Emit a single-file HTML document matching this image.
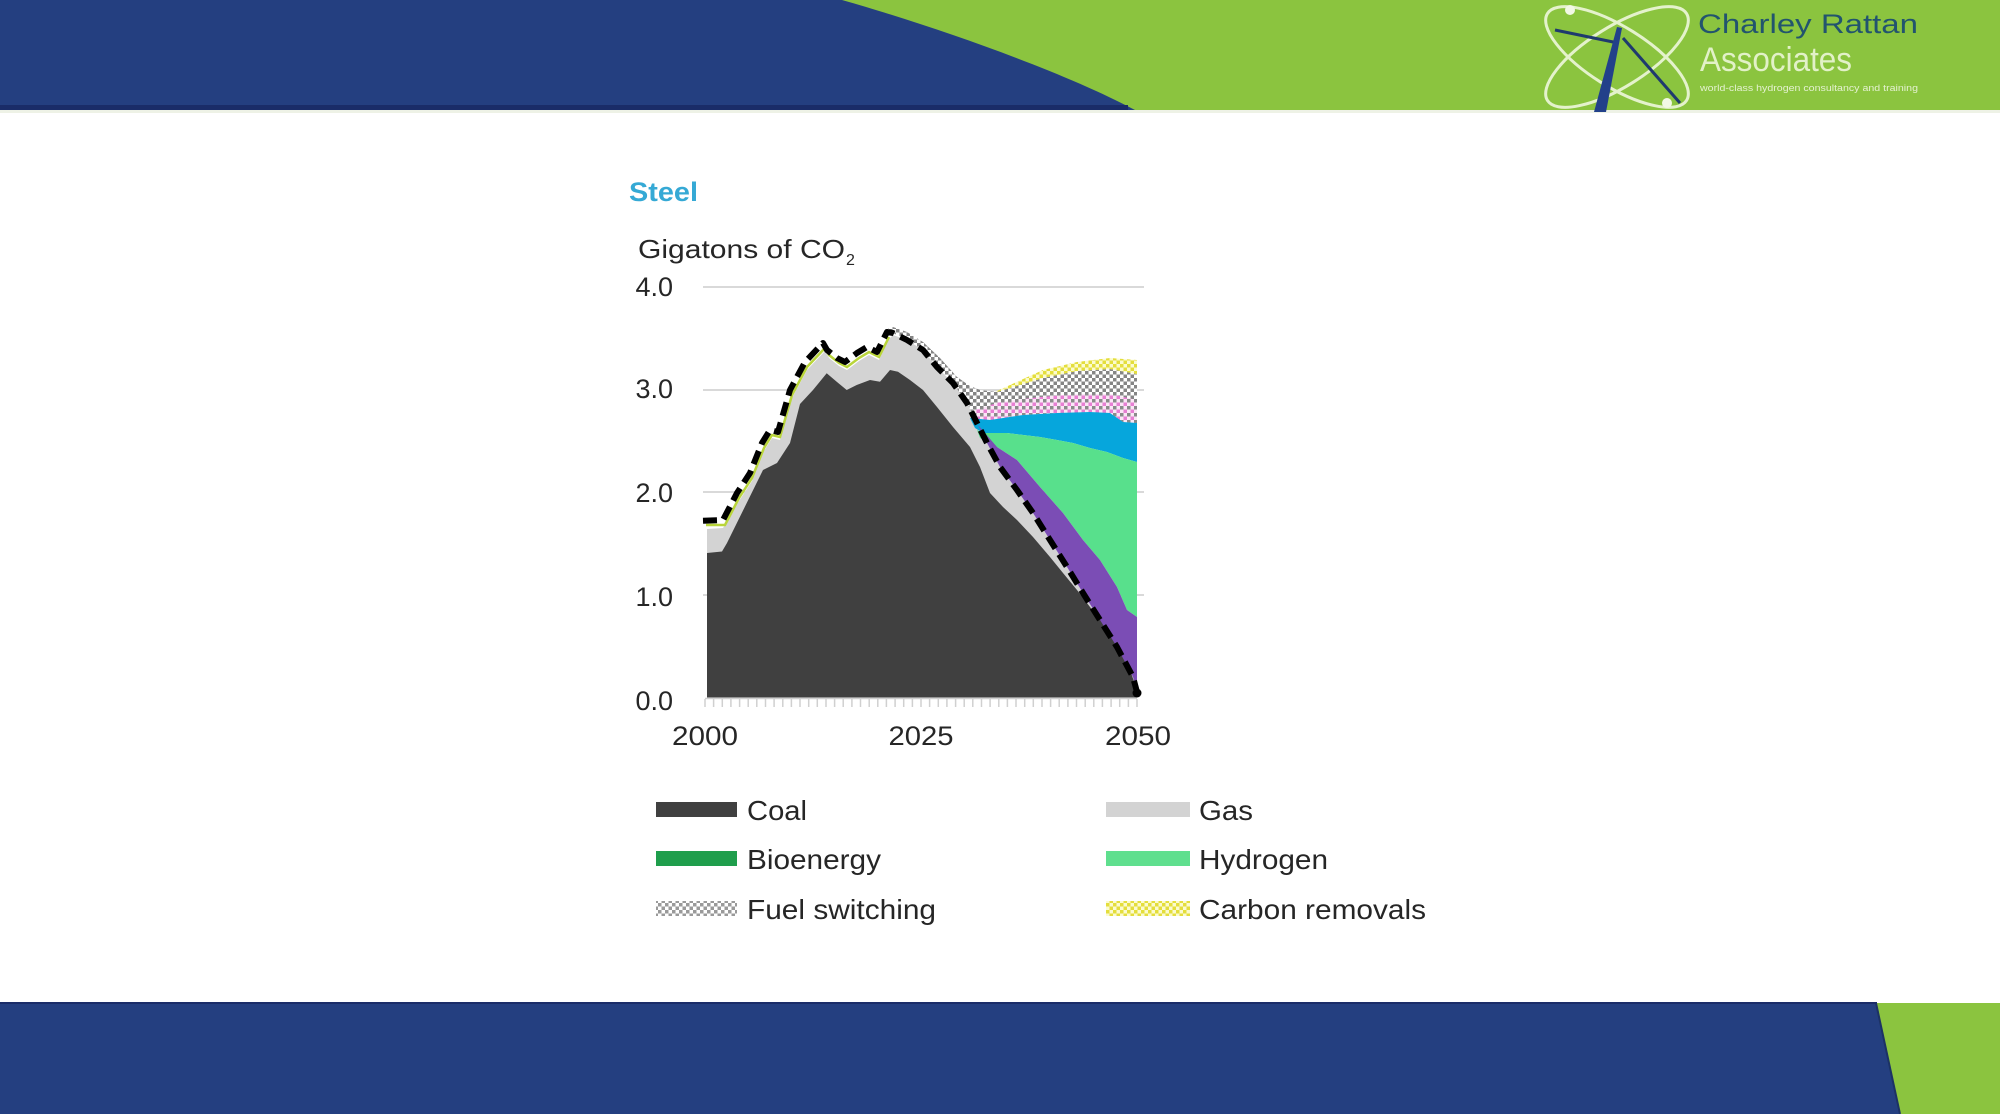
<!DOCTYPE html>
<html>
<head>
<meta charset="utf-8">
<style>
  html, body { margin: 0; padding: 0; background: #ffffff; }
  body { width: 2000px; height: 1114px; overflow: hidden; }
  svg { display: block; }
  text { font-family: "Liberation Sans", Arial, sans-serif; }
</style>
</head>
<body>
<svg width="2000" height="1114" viewBox="0 0 2000 1114" xmlns="http://www.w3.org/2000/svg">
  <defs>
    <pattern id="chkGrey" width="7" height="7" patternUnits="userSpaceOnUse">
      <rect width="7" height="7" fill="#ffffff"/>
      <rect x="0" y="0" width="3.5" height="3.5" fill="#858585"/>
      <rect x="3.5" y="3.5" width="3.5" height="3.5" fill="#858585"/>
    </pattern>
    <pattern id="chkPink" width="7" height="7" patternUnits="userSpaceOnUse">
      <rect width="7" height="7" fill="#fbe6f6"/>
      <rect x="0" y="0" width="3.5" height="3.5" fill="#8a8a8a"/>
      <rect x="3.5" y="3.5" width="3.5" height="3.5" fill="#e77fd3"/>
    </pattern>
    <pattern id="chkYellow" width="7" height="7" patternUnits="userSpaceOnUse">
      <rect width="7" height="7" fill="#fbfbcf"/>
      <rect x="0" y="0" width="3.5" height="3.5" fill="#e4de3c"/>
      <rect x="3.5" y="3.5" width="3.5" height="3.5" fill="#e4de3c"/>
    </pattern>
    <pattern id="chkGreyL" width="7" height="7" patternUnits="userSpaceOnUse">
      <rect width="7" height="7" fill="#ffffff"/>
      <rect x="0" y="0" width="3.5" height="3.5" fill="#9a9a9a"/>
      <rect x="3.5" y="3.5" width="3.5" height="3.5" fill="#9a9a9a"/>
    </pattern>
  </defs>

  <!-- ===== HEADER ===== -->
  <rect x="0" y="0" width="2000" height="110" fill="#8bc43f"/>
  <path d="M0,0 L842,0 C930,25 1060,70 1135,110 L0,110 Z" fill="#243f80"/>
  <rect x="0" y="105" width="1128" height="5" fill="#1a2c68"/>
  <rect x="0" y="110" width="2000" height="3" fill="#eef2e6"/>

  <!-- Logo graphic -->
  <g fill="none" stroke="#e4f2cc" stroke-width="3">
    <ellipse cx="1617" cy="57" rx="82" ry="30" transform="rotate(32 1617 57)"/>
    <ellipse cx="1617" cy="57" rx="82" ry="30" transform="rotate(-32 1617 57)"/>
  </g>
  <line x1="1555" y1="30" x2="1618" y2="43" stroke="#1f3a6e" stroke-width="3"/>
  <line x1="1623" y1="38" x2="1680" y2="103" stroke="#1f3a6e" stroke-width="3"/>
  <polygon points="1594,112 1606,112 1622,28 1617,27" fill="#22408a"/>
  <circle cx="1570" cy="10" r="5" fill="#f2f8e6"/>
  <circle cx="1667" cy="103" r="5" fill="#f2f8e6"/>

  <!-- Logo text -->
  <text x="1698" y="33" font-size="27" fill="#22546e" textLength="220" lengthAdjust="spacingAndGlyphs">Charley Rattan</text>
  <text x="1700" y="71" font-size="34" fill="#e2f1c8" textLength="152" lengthAdjust="spacingAndGlyphs">Associates</text>
  <text x="1700" y="91" font-size="9" fill="#e4f1d0" textLength="218" lengthAdjust="spacingAndGlyphs">world-class hydrogen consultancy and training</text>

  <!-- ===== FOOTER ===== -->
  <rect x="0" y="1003" width="2000" height="111" fill="#243f80"/>
  <polygon points="1876,1003 2000,1003 2000,1114 1900,1114" fill="#8bc43f"/>
  <line x1="1876" y1="1003" x2="1900" y2="1114" stroke="#1c3264" stroke-width="2"/>
  <rect x="0" y="1002" width="1877" height="2" fill="#1a2c68"/>

  <!-- ===== CHART TITLE ===== -->
  <text x="629" y="201" font-size="27" font-weight="bold" fill="#35a9d5" textLength="69" lengthAdjust="spacingAndGlyphs">Steel</text>
  <text x="638" y="258" font-size="26" fill="#262626" textLength="207" lengthAdjust="spacingAndGlyphs">Gigatons of CO</text>
  <text x="846" y="265" font-size="16" fill="#262626">2</text>

  <!-- gridlines -->
  <g stroke="#d9d9d9" stroke-width="2">
    <line x1="703" y1="287" x2="1144" y2="287"/>
    <line x1="703" y1="390" x2="1144" y2="390"/>
    <line x1="703" y1="492" x2="1144" y2="492"/>
    <line x1="703" y1="595" x2="1144" y2="595"/>
  </g>

  <!-- y tick labels -->
  <g font-size="27" fill="#262626" text-anchor="end">
    <text x="673" y="296">4.0</text>
    <text x="673" y="398">3.0</text>
    <text x="673" y="502">2.0</text>
    <text x="673" y="606">1.0</text>
    <text x="673" y="710">0.0</text>
  </g>

  <!-- Gas -->
  <polygon fill="#d3d3d3" points="707,529 723,528 739,501 752,481 764,451 772,438 780,440 792,398 807,370 825,351 829,358 839,366 847,370 859,361 869,355 879,360 888,340 893,335 907,340 923,350 937,367 953,383 967,403 977,423 987,443 1000,467 1017,490 1033,513 1050,540 1067,567 1083,593 1100,620 1117,647 1133,677 1137,692 1137,697.5 707,697.5"/>

  <!-- Coal -->
  <polygon fill="#404040" points="707,697.5 707,553 722,551.5 727,543 763,470 777,463 790,443 800,404 813,390 826.7,373.3 836.7,381.7 846.7,390 856.7,385 870,380 880,381.7 890,370 898,371.7 910,380 923,390 937,407 953,427 970,447 980,467 990,493 1003,507 1017,520 1033,537 1050,557 1063,573 1077,590 1090,607 1103,623 1117,643 1130,670 1137,690 1137,697.5"/>

  <!-- Fuel switching (grey checker) -->
  <polygon fill="url(#chkGrey)" points="885,330 893,327 907,332 923,342 940,358 957,377 970,386 980,390 997,392 1010,388 1043,378 1077,371 1110,369 1137,374 1137,423 1123,422 1110,413 1090,412 1057,413 1023,415 990,420 977,423 967,403 953,383 937,367 923,350 907,340 893,333 887,332"/>

  <!-- Pink checker -->
  <polygon fill="url(#chkPink)" points="975,410 1000,402 1040,397 1080,394 1110,394 1137,400 1137,423 1123,422 1110,413 1090,412 1057,413 1023,415 990,420 977,423"/>

  <!-- Carbon removals (yellow checker) -->
  <polygon fill="url(#chkYellow)" points="995,392 1010,385 1043,370 1077,362 1110,358 1137,360 1137,374 1110,369 1077,371 1043,378 1010,388 997,392"/>

  <!-- Cyan -->
  <polygon fill="#06a6dc" points="970,418 990,420 1023,415 1057,413 1090,412 1110,413 1123,422 1137,423 1137,462 1123,458 1107,452 1090,448 1073,443 1057,440 1040,437 1007,433 983,433 975,428"/>

  <!-- Hydrogen (green) -->
  <polygon fill="#58e08c" points="977,430 983,433 1007,433 1040,437 1057,440 1073,443 1090,448 1107,452 1123,458 1137,462 1137,617 1127,610 1117,587 1100,560 1083,540 1063,513 1040,487 1017,460 997,447 980,438"/>

  <!-- Purple -->
  <polygon fill="#7b4db5" points="978,425 997,447 1017,460 1040,487 1063,513 1083,540 1100,560 1117,587 1127,610 1137,617 1137,692 1133,677 1117,647 1100,620 1083,593 1067,567 1050,540 1033,513 1017,490 1000,467 987,443 977,423"/>

  <!-- Bioenergy thin line -->
  <polyline fill="none" stroke="#b9d53a" stroke-width="2.5" points="706,525 725,525 739,498 752,478 764,448 772,435 780,437 792,395 807,367 825,348 829,355 839,363 847,367 859,358 869,352 879,357 889,337"/>

  <!-- Dashed total line -->
  <polyline fill="none" stroke="#000000" stroke-width="6" stroke-dasharray="14 7" stroke-linejoin="round" points="703,520.7 723,520 737,493 750,473 762,443 770,430 778,432 790,390 805,362 823,343 827,350 837,358 845,362 857,353 867,347 877,352 887,332 893,333 907,340 923,350 937,367 953,383 967,403 977,423 987,443 1000,467 1017,490 1033,513 1050,540 1067,567 1083,593 1100,620 1117,647 1133,677 1137,692"/>
  <circle cx="1137" cy="693" r="4.5" fill="#000000"/>

  <!-- x axis ticks -->
  <line x1="705" y1="698.5" x2="1137" y2="698.5" stroke="#cfcfcf" stroke-width="1.5"/>
  <g stroke="#d0d0d0" stroke-width="1.5">
    <line x1="705.0" y1="699" x2="705.0" y2="707"/><line x1="713.6" y1="699" x2="713.6" y2="707"/><line x1="722.3" y1="699" x2="722.3" y2="707"/><line x1="730.9" y1="699" x2="730.9" y2="707"/><line x1="739.6" y1="699" x2="739.6" y2="707"/><line x1="748.2" y1="699" x2="748.2" y2="707"/><line x1="756.8" y1="699" x2="756.8" y2="707"/><line x1="765.5" y1="699" x2="765.5" y2="707"/><line x1="774.1" y1="699" x2="774.1" y2="707"/><line x1="782.8" y1="699" x2="782.8" y2="707"/>
    <line x1="791.4" y1="699" x2="791.4" y2="707"/><line x1="800.0" y1="699" x2="800.0" y2="707"/><line x1="808.7" y1="699" x2="808.7" y2="707"/><line x1="817.3" y1="699" x2="817.3" y2="707"/><line x1="826.0" y1="699" x2="826.0" y2="707"/><line x1="834.6" y1="699" x2="834.6" y2="707"/><line x1="843.2" y1="699" x2="843.2" y2="707"/><line x1="851.9" y1="699" x2="851.9" y2="707"/><line x1="860.5" y1="699" x2="860.5" y2="707"/><line x1="869.2" y1="699" x2="869.2" y2="707"/>
    <line x1="877.8" y1="699" x2="877.8" y2="707"/><line x1="886.4" y1="699" x2="886.4" y2="707"/><line x1="895.1" y1="699" x2="895.1" y2="707"/><line x1="903.7" y1="699" x2="903.7" y2="707"/><line x1="912.4" y1="699" x2="912.4" y2="707"/><line x1="921.0" y1="699" x2="921.0" y2="707"/><line x1="929.6" y1="699" x2="929.6" y2="707"/><line x1="938.3" y1="699" x2="938.3" y2="707"/><line x1="946.9" y1="699" x2="946.9" y2="707"/><line x1="955.6" y1="699" x2="955.6" y2="707"/>
    <line x1="964.2" y1="699" x2="964.2" y2="707"/><line x1="972.8" y1="699" x2="972.8" y2="707"/><line x1="981.5" y1="699" x2="981.5" y2="707"/><line x1="990.1" y1="699" x2="990.1" y2="707"/><line x1="998.8" y1="699" x2="998.8" y2="707"/><line x1="1007.4" y1="699" x2="1007.4" y2="707"/><line x1="1016.0" y1="699" x2="1016.0" y2="707"/><line x1="1024.7" y1="699" x2="1024.7" y2="707"/><line x1="1033.3" y1="699" x2="1033.3" y2="707"/><line x1="1042.0" y1="699" x2="1042.0" y2="707"/>
    <line x1="1050.6" y1="699" x2="1050.6" y2="707"/><line x1="1059.2" y1="699" x2="1059.2" y2="707"/><line x1="1067.9" y1="699" x2="1067.9" y2="707"/><line x1="1076.5" y1="699" x2="1076.5" y2="707"/><line x1="1085.2" y1="699" x2="1085.2" y2="707"/><line x1="1093.8" y1="699" x2="1093.8" y2="707"/><line x1="1102.4" y1="699" x2="1102.4" y2="707"/><line x1="1111.1" y1="699" x2="1111.1" y2="707"/><line x1="1119.7" y1="699" x2="1119.7" y2="707"/><line x1="1128.4" y1="699" x2="1128.4" y2="707"/>
    <line x1="1137.0" y1="699" x2="1137.0" y2="707"/>
  </g>

  <!-- x labels -->
  <g font-size="27" fill="#262626" text-anchor="middle">
    <text x="705" y="745" textLength="66" lengthAdjust="spacingAndGlyphs">2000</text>
    <text x="921" y="745" textLength="65" lengthAdjust="spacingAndGlyphs">2025</text>
    <text x="1138" y="745" textLength="66" lengthAdjust="spacingAndGlyphs">2050</text>
  </g>

  <!-- ===== LEGEND ===== -->
  <rect x="656" y="802" width="81" height="15" fill="#404040"/>
  <rect x="656" y="851" width="81" height="15" fill="#1f9e4c"/>
  <rect x="656" y="901" width="81" height="15" fill="url(#chkGreyL)"/>
  <rect x="1106" y="802" width="84" height="15" fill="#d3d3d3"/>
  <rect x="1106" y="851" width="84" height="15" fill="#5fdf8e"/>
  <rect x="1106" y="901" width="84" height="15" fill="url(#chkYellow)"/>

  <g font-size="28" fill="#262626">
    <text x="747" y="820" textLength="60" lengthAdjust="spacingAndGlyphs">Coal</text>
    <text x="747" y="869" textLength="134" lengthAdjust="spacingAndGlyphs">Bioenergy</text>
    <text x="747" y="919" textLength="189" lengthAdjust="spacingAndGlyphs">Fuel switching</text>
    <text x="1199" y="820" textLength="54" lengthAdjust="spacingAndGlyphs">Gas</text>
    <text x="1199" y="869" textLength="129" lengthAdjust="spacingAndGlyphs">Hydrogen</text>
    <text x="1199" y="919" textLength="227" lengthAdjust="spacingAndGlyphs">Carbon removals</text>
  </g>
</svg>
</body>
</html>
